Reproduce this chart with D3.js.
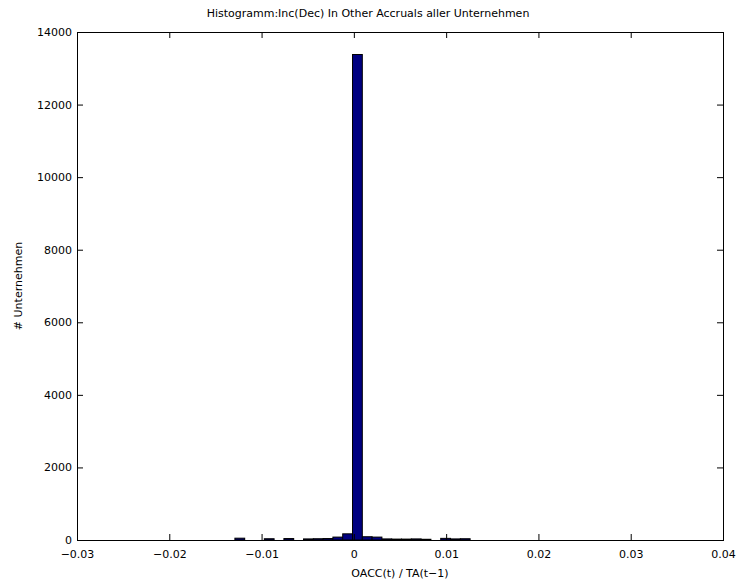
<!DOCTYPE html>
<html>
<head>
<meta charset="utf-8">
<script src="https://cdn.jsdelivr.net/npm/d3@7"></script>
<style>
  body { margin: 0; background: #fff; }
  text { font-family: "DejaVu Sans", Arial, sans-serif; font-size: 11px; fill: #000; }
</style>
</head>
<body>
<script>
// histogram bins: left edge of the first bin, bin width, counts
var firstEdge = -0.01289;
var binWidth = 0.001062;
var counts = [50, 0, 0, 35, 0, 40, 0, 30, 35, 40, 80, 170, 13380,
              90, 80, 30, 25, 25, 30, 20, 0, 45, 30, 35];

var xTicks = [-0.03, -0.02, -0.01, 0, 0.01, 0.02, 0.03, 0.04];
var yTicks = [0, 2000, 4000, 6000, 8000, 10000, 12000, 14000];

var title = "Histogramm:Inc(Dec) In Other Accruals aller Unternehmen";
var xTitle = "OACC(t) / TA(t\u22121)";
var yTitle = "# Unternehmen";

// bins built from the counts
var bins = counts.map(function(c, i) {
  return { x0: firstEdge + i * binWidth, x1: firstEdge + (i + 1) * binWidth, n: c };
});

var margin = { left: 77, right: 14, top: 32, bottom: 40 };
var width = 737, height = 580;

var svg = d3.select("body").append("svg")
  .attr("width", width)
  .attr("height", height);

var x = d3.scaleLinear().domain([-0.03, 0.04]).range([margin.left, width - margin.right]);
var y = d3.scaleLinear().domain([0, 14000]).range([height - margin.bottom, margin.top]);

// bars
svg.selectAll("rect.bar")
  .data(bins.filter(function(d) { return d.n > 0; }))
  .enter()
  .append("rect")
  .attr("class", "bar")
  .attr("x", function(d) { return x(d.x0); })
  .attr("width", function(d) { return x(d.x1) - x(d.x0); })
  .attr("y", function(d) { return y(d.n); })
  .attr("height", function(d) { return y(0) - y(d.n); })
  .attr("fill", "#000080")
  .attr("stroke", "#000")
  .attr("stroke-width", 1);

// axes (ticks pointing inward, like matlab)
var fmtX = function(d) { return d === 0 ? "0" : d3.format(".2f")(d).replace("-", "\u2212"); };

svg.append("g")
  .attr("transform", "translate(0," + y(0) + ")")
  .call(d3.axisBottom(x).tickValues(xTicks).tickSizeInner(-6).tickSizeOuter(0).tickPadding(10).tickFormat(fmtX))
  .call(function(g) { g.select(".domain").remove(); });

svg.append("g")
  .attr("transform", "translate(0," + y(14000) + ")")
  .call(d3.axisTop(x).tickValues(xTicks).tickSizeInner(-6).tickSizeOuter(0).tickFormat(""))
  .call(function(g) { g.select(".domain").remove(); });

svg.append("g")
  .attr("transform", "translate(" + x(-0.03) + ",0)")
  .call(d3.axisLeft(y).tickValues(yTicks).tickSizeInner(-6).tickSizeOuter(0).tickPadding(5).tickFormat(d3.format("d")))
  .call(function(g) { g.select(".domain").remove(); });

svg.append("g")
  .attr("transform", "translate(" + x(0.04) + ",0)")
  .call(d3.axisRight(y).tickValues(yTicks).tickSizeInner(-6).tickSizeOuter(0).tickFormat(""))
  .call(function(g) { g.select(".domain").remove(); });

svg.selectAll(".tick text").style("font-family", "DejaVu Sans, Arial, sans-serif").style("font-size", "11px").attr("fill", "#000");
svg.selectAll(".tick line").attr("stroke", "#000");

// box around the plot
svg.append("rect")
  .attr("x", x(-0.03) + 0.5)
  .attr("y", y(14000) + 0.5)
  .attr("width", x(0.04) - x(-0.03))
  .attr("height", y(0) - y(14000))
  .attr("fill", "none")
  .attr("stroke", "#000");

// titles (the title sits a bit left of the axes centre in the original)
svg.append("text")
  .attr("x", 368)
  .attr("y", 17)
  .attr("text-anchor", "middle")
  .text(title);

svg.append("text")
  .attr("x", (x(-0.03) + x(0.04)) / 2)
  .attr("y", 577)
  .attr("text-anchor", "middle")
  .text(xTitle);

svg.append("text")
  .attr("transform", "translate(22," + (y(7000)) + ")rotate(-90)")
  .attr("text-anchor", "middle")
  .text(yTitle);
</script>
</body>
</html>
